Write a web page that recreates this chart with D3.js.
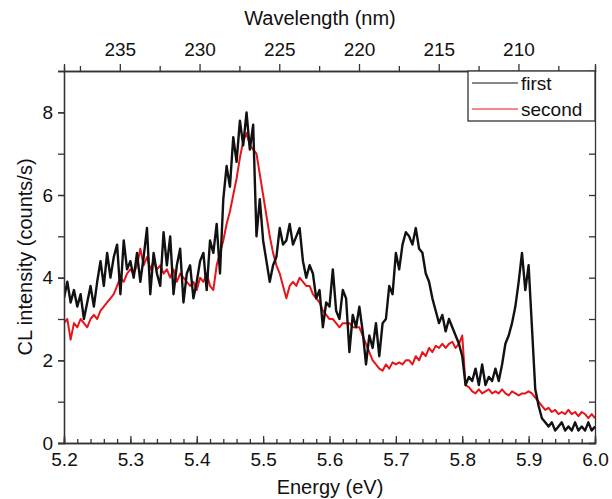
<!DOCTYPE html>
<html>
<head>
<meta charset="utf-8">
<script src="https://cdn.jsdelivr.net/npm/d3@7"></script>
<style>
  body { margin: 0; background: #fff; }
  svg text { font-family: "Liberation Sans", Arial, sans-serif; fill: #111; }
  .axis path, .axis line { stroke: #333; stroke-width: 1.3; }
  .axis text { font-size: 19px; }
</style>
</head>
<body>
<svg id="chart"></svg>
<script>
// photon energy grid (eV), shared by both spectra
const energy = [
  5.200,5.205,5.210,5.215,5.220,5.225,5.230,5.235,5.240,5.245,
  5.250,5.255,5.260,5.265,5.270,5.275,5.280,5.285,5.290,5.295,
  5.300,5.305,5.310,5.315,5.320,5.325,5.330,5.335,5.340,5.345,
  5.350,5.355,5.360,5.365,5.370,5.375,5.380,5.385,5.390,5.395,
  5.400,5.405,5.410,5.415,5.420,5.425,5.430,5.435,5.440,5.445,
  5.450,5.455,5.460,5.465,5.470,5.475,5.480,5.485,5.490,5.495,
  5.500,5.505,5.510,5.515,5.520,5.525,5.530,5.535,5.540,5.545,
  5.550,5.555,5.560,5.565,5.570,5.575,5.580,5.585,5.590,5.595,
  5.600,5.605,5.610,5.615,5.620,5.625,5.630,5.635,5.640,5.645,
  5.650,5.655,5.660,5.665,5.670,5.675,5.680,5.685,5.690,5.695,
  5.700,5.705,5.710,5.715,5.720,5.725,5.730,5.735,5.740,5.745,
  5.750,5.755,5.760,5.765,5.770,5.775,5.780,5.785,5.790,5.795,
  5.800,5.805,5.810,5.815,5.820,5.825,5.830,5.835,5.840,5.845,
  5.850,5.855,5.860,5.865,5.870,5.875,5.880,5.885,5.890,5.895,
  5.900,5.905,5.910,5.915,5.920,5.925,5.930,5.935,5.940,5.945,
  5.950,5.955,5.960,5.965,5.970,5.975,5.980,5.985,5.990,5.995,
  6.000
];

// "first" spectrum (counts/s)
const first = [
  3.5,3.9,3.4,3.7,3.3,3.6,3.0,3.4,3.8,3.3,
  3.9,4.4,3.8,4.6,4.0,4.5,4.8,3.6,4.9,4.2,
  4.4,4.0,4.6,3.9,4.5,5.2,3.6,4.6,4.1,3.8,
  5.1,4.3,5.0,3.6,4.3,4.7,3.4,4.1,4.3,3.5,
  3.9,4.4,4.6,3.7,4.9,4.6,5.3,4.1,5.9,6.7,
  6.2,7.4,6.8,7.8,7.2,8.0,7.1,7.7,5.0,5.9,
  4.9,4.4,3.9,4.3,4.5,5.2,4.8,4.9,5.3,4.8,
  5.0,5.2,4.4,4.0,4.3,4.1,3.5,3.7,2.8,3.4,
  3.3,4.2,3.2,3.0,3.7,3.5,2.2,3.1,2.8,3.3,
  2.7,1.9,2.6,2.3,2.9,2.1,2.9,3.0,3.8,3.6,
  4.6,4.2,4.8,5.1,5.0,4.8,5.2,4.7,4.6,4.1,
  3.9,3.5,3.2,2.9,3.1,2.7,3.0,2.8,2.6,2.4,
  2.1,1.4,1.6,1.5,1.8,1.4,1.9,1.4,1.6,1.5,
  1.8,1.5,1.9,2.4,2.6,2.9,3.3,3.9,4.6,3.7,
  4.3,2.8,1.3,0.9,0.6,0.5,0.4,0.5,0.3,0.4,
  0.5,0.3,0.4,0.3,0.5,0.3,0.4,0.3,0.5,0.3,
  0.4
];

// "second" spectrum (counts/s)
const second = [
  2.9,3.0,2.5,2.9,2.8,3.0,2.9,2.8,3.0,3.1,
  3.0,3.2,3.3,3.4,3.5,3.6,3.8,4.0,3.9,4.1,
  4.2,4.1,4.3,4.7,4.3,4.5,4.2,4.4,4.2,4.3,
  4.1,4.2,4.0,4.2,3.9,4.1,4.0,3.9,3.8,3.9,
  3.7,4.0,3.9,4.1,3.8,3.7,4.3,4.6,4.9,5.3,
  5.6,6.0,6.4,6.9,7.3,7.5,7.2,7.1,7.0,6.5,
  6.0,5.5,5.0,4.6,4.3,4.1,3.8,3.5,3.8,3.9,
  3.8,4.0,3.9,3.8,3.8,3.6,3.5,3.4,3.2,3.1,
  3.0,3.0,2.9,2.8,2.9,2.9,2.9,2.8,2.8,2.8,
  2.6,2.4,2.2,2.0,1.9,1.8,1.75,1.9,1.8,1.95,
  1.9,1.95,1.9,2.0,2.0,1.9,2.1,2.0,2.2,2.1,
  2.3,2.2,2.35,2.3,2.4,2.3,2.4,2.45,2.3,2.4,
  2.6,1.4,1.35,1.25,1.2,1.3,1.2,1.25,1.3,1.2,
  1.25,1.2,1.3,1.2,1.15,1.25,1.2,1.15,1.2,1.2,
  1.25,1.2,1.1,1.0,0.9,0.8,0.85,0.75,0.8,0.7,
  0.75,0.7,0.8,0.7,0.75,0.65,0.75,0.7,0.6,0.7,
  0.6
];

const seriesNames = ["first", "second"];
const seriesColors = ["#111111", "#e8141a"];

const energyTicks = [5.2, 5.3, 5.4, 5.5, 5.6, 5.7, 5.8, 5.9, 6.0];
const intensityTicks = [0, 2, 4, 6, 8];
const wavelengthTicks = [235, 230, 225, 220, 215, 210];
const wavelengthMinor = [237.5, 232.5, 227.5, 222.5, 217.5, 212.5, 207.5];

const W = 612, H = 499;
const margin = { top: 71, right: 17, bottom: 56, left: 64 };
const width = W - margin.left - margin.right;
const height = H - margin.top - margin.bottom;

const svg = d3.select("#chart").attr("width", W).attr("height", H);
const chart = svg.append("g").attr("transform", `translate(${margin.left},${margin.top})`);

const x = d3.scaleLinear().domain([5.2, 6.0]).range([0, width]);
const y = d3.scaleLinear().domain([0, 9]).range([height, 0]);
// top axis as drawn in the original: linear in wavelength
const xWl = d3.scaleLinear().domain([238.5, 205.2]).range([0, width]);

chart.append("clipPath").attr("id", "clip")
  .append("rect").attr("width", width).attr("height", height);

// spectra (red drawn first so black sits on top)
const line = d3.line().x(d => x(d[0])).y(d => y(d[1]));
[second, first].forEach((vals, j) => {
  const i = 1 - j;
  chart.append("path")
    .datum(energy.map((e, k) => [e, vals[k]]))
    .attr("clip-path", "url(#clip)")
    .attr("fill", "none")
    .attr("stroke", seriesColors[i])
    .attr("stroke-width", i == 0 ? 2.4 : 2.0)
    .attr("stroke-linejoin", "round")
    .attr("d", line);
});

// bottom axis, ticks pointing inside
chart.append("g").attr("class", "axis")
  .attr("transform", `translate(0,${height})`)
  .call(d3.axisBottom(x).tickValues(d3.range(5.2, 6.0001, 0.02)).tickSize(-4).tickFormat(""));
chart.append("g").attr("class", "axis")
  .attr("transform", `translate(0,${height})`)
  .call(d3.axisBottom(x).tickValues(energyTicks).tickSize(-7).tickPadding(10).tickFormat(d3.format(".1f")));

// left axis, ticks outside
chart.append("g").attr("class", "axis")
  .call(d3.axisLeft(y).tickValues(d3.range(0, 9, 1)).tickSize(6).tickFormat(""));
chart.append("g").attr("class", "axis")
  .call(d3.axisLeft(y).tickValues(intensityTicks).tickSize(6).tickPadding(5));

// right axis, ticks inside
chart.append("g").attr("class", "axis")
  .attr("transform", `translate(${width},0)`)
  .call(d3.axisRight(y).tickValues(d3.range(0, 9, 1)).tickSize(-6).tickFormat(""));

// top axis (wavelength)
chart.append("g").attr("class", "axis")
  .call(d3.axisTop(xWl).tickValues(wavelengthMinor).tickSize(5).tickFormat(""));
chart.append("g").attr("class", "axis")
  .call(d3.axisTop(xWl).tickValues(wavelengthTicks).tickSize(7).tickPadding(8));

// axis titles
svg.append("text").attr("x", 320).attr("y", 25).attr("text-anchor", "middle")
  .attr("font-size", 20).text("Wavelength (nm)");
svg.append("text").attr("x", 330).attr("y", 494).attr("text-anchor", "middle")
  .attr("font-size", 20).text("Energy (eV)");
svg.append("text")
  .attr("transform", `translate(32,${margin.top + height / 2}) rotate(-90)`)
  .attr("text-anchor", "middle").attr("font-size", 20)
  .text("CL intensity (counts/s)");

// legend
const lg = chart.append("g").attr("transform", `translate(${width - 127},0)`);
lg.append("rect").attr("width", 127).attr("height", 50)
  .attr("fill", "#fff").attr("stroke", "#333").attr("stroke-width", 1.3);
seriesNames.forEach((name, i) => {
  const ly = 12 + i * 26;
  lg.append("line").attr("x1", 4).attr("x2", 50).attr("y1", ly).attr("y2", ly)
    .attr("stroke", seriesColors[i]).attr("stroke-width", 1.2);
  lg.append("text").attr("x", 53).attr("y", ly + 7).attr("font-size", 19).text(name);
});
</script>
</body>
</html>
